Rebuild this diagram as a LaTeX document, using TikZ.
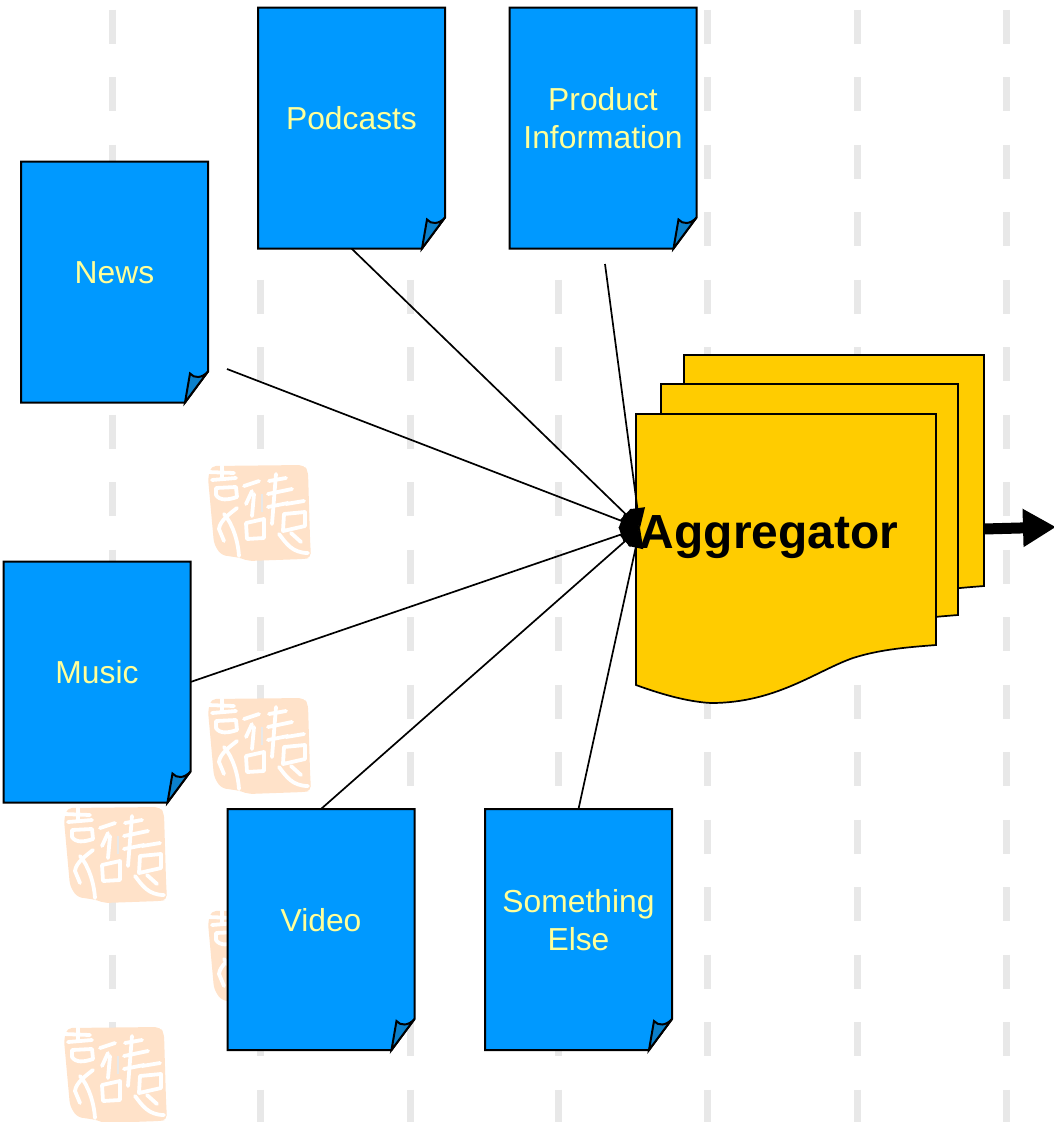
\documentclass[tikz,border=0pt]{standalone}
\usepackage{fontspec}
\setmainfont{Liberation Sans}
\usetikzlibrary{arrows.meta}
\definecolor{sheetblue}{HTML}{0099FF}
\definecolor{foldblue}{HTML}{0A80CC}
\definecolor{labelyellow}{HTML}{FFFF99}
\definecolor{stackyellow}{HTML}{FFCC00}
\definecolor{sealorange}{HTML}{FFE2C9}
\definecolor{guidegray}{HTML}{E8E8E8}
\tikzset{
  docbox/.style={rectangle, minimum width=187pt, minimum height=241pt, inner sep=0pt, outer sep=0pt},
  doctext/.style={text=labelyellow, align=center, font=\fontsize{31.8}{38}\selectfont, yshift=9.5pt},
  docline/.style={draw=black, line width=2pt, line join=miter},
  spoke/.style={line width=1.7pt, -{Triangle[length=20pt,width=15pt]}},
  guide/.style={guidegray, line width=7pt, dash pattern=on 34pt off 33.5pt},
  sealcut/.style={white, line width=3.8pt, line cap=round, line join=round},
  pics/sealstamp/.style={code={
    \fill[sealorange, rounded corners=5pt] (3,1) -- (96,0) -- (100,6) -- (102,73) -- (103,93) -- (96,94)
      -- (40,96) -- (33,93) -- (13,90) -- (6,79) -- (3,46) -- (0,13) -- cycle;
    % left top sign
    \draw[sealcut] (0,7) -- (26,8);
    \draw[sealcut] (4,15) -- (28,13);
    \draw[sealcut] (14,1) -- (14,14);
    \draw[sealcut] (8,23) -- (28,22) -- (29,32) .. controls (20,35) and (12,36) .. (8,30) -- cycle;
    % left bottom sign
    \draw[sealcut] (29,43) .. controls (20,50) and (12,56) .. (11,64) -- (16,76);
    \draw[sealcut] (16,49) .. controls (24,58) and (30,75) .. (31,91);
    \draw[sealcut] (38,58) -- (56,54) -- (56,73) -- (39,74) -- cycle;
    % middle sign
    \draw[sealcut] (36,21) -- (51,16);
    \draw[sealcut] (44,26) -- (38,39);
    \draw[sealcut] (46,29) -- (44,51);
    \draw[guidegray, line width=2.2pt] (54,29) -- (54,47);
    \draw[sealcut] (61,16) -- (78,13);
    \draw[sealcut] (60,29) -- (84,24);
    \draw[sealcut] (60,42) -- (80,38);
    \draw[sealcut] (68,9) -- (64,59);
    % right sign
    \draw[sealcut] (78,39) -- (96,36);
    \draw[sealcut] (76,49) -- (97,47) -- (97,61) -- (75,66) -- cycle;
    \draw[sealcut] (71,69) .. controls (78,78) and (84,88) .. (100,88);
    \draw[sealcut] (83,68) -- (93,77);
  }},
  pics/wavesheet/.style={code={
    \draw[fill=stackyellow, line width=1.7pt] (0,0) -- (300,0) -- (300,231)
      .. controls (275,233) and (245,235) .. (217,244)
      .. controls (180,257) and (140,289) .. (75,289)
      .. controls (55,288) and (30,282) .. (0,271) -- cycle;
  }}
}
% one blue sheet with its turned corner
\newcommand{\docsheet}[3]{%
  \node[docbox] (#1) at (#2) {};
  \draw[docline, fill=sheetblue] (#1.north west) -- (#1.north east)
    -- ([shift={(0,-31)}]#1.south east) -- ([shift={(-23,0)}]#1.south east)
    -- (#1.south west) -- cycle;
  \draw[docline, fill=foldblue] ([shift={(-23,0)}]#1.south east) -- ([shift={(-18,-29)}]#1.south east)
    .. controls ([shift={(-14,-24)}]#1.south east) and ([shift={(-6,-24)}]#1.south east)
    .. ([shift={(0,-31)}]#1.south east) -- cycle;
  \node[doctext] at (#1) {#3};
}
\begin{document}
\begin{tikzpicture}[x=1pt, y=-1pt]
  \useasboundingbox (0,0) rectangle (1054,1122);

  % Guide lines
  \foreach \col in {112,260,410,558,707,857,1006}
    \draw[guide] (\col,9.5) -- (\col,1122);

  % Seals
  \foreach \sx/\sy in {208/465,208/698,64/807,208/910,64/1027}
    \pic at (\sx,\sy) {sealstamp};

  % Source sheets
  \docsheet{podcasts}{351.5,128}{Podcasts}
  \docsheet{product}{603,128}{Product\\Information}
  \docsheet{news}{114.5,282}{News}
  \docsheet{music}{97,682}{Music}
  \docsheet{video}{321,929.5}{Video}
  \docsheet{something}{578.5,929.5}{Something\\Else}

  % Aggregator stack
  \pic at (684,355) {wavesheet};
  \pic[xscale=.99] at (661,384) {wavesheet};
  \pic at (636,414) {wavesheet};
  \node[font=\bfseries\fontsize{47.9}{56}\selectfont] (aggregator) at (769,537) {Aggregator};

  % Free ends
  \coordinate (hub) at (640,528);
  \coordinate (newsend) at (227,369);
  \coordinate (productend) at (605,264);
  \coordinate (stackout) at (984,529);
  \coordinate (feedout) at (1056,527);

  % Feeds into the aggregator
  \draw[spoke] (podcasts.south) -- (hub);
  \draw[spoke] (productend) -- (hub);
  \draw[spoke] (newsend) -- (hub);
  \draw[spoke] (music.east) -- (hub);
  \draw[spoke] (video.north) -- (hub);
  \draw[spoke] (something.north) -- (hub);

  % Output
  \draw[line width=11pt, -{Triangle[length=33pt,width=36pt]}] (stackout) -- (feedout);
\end{tikzpicture}
\end{document}
